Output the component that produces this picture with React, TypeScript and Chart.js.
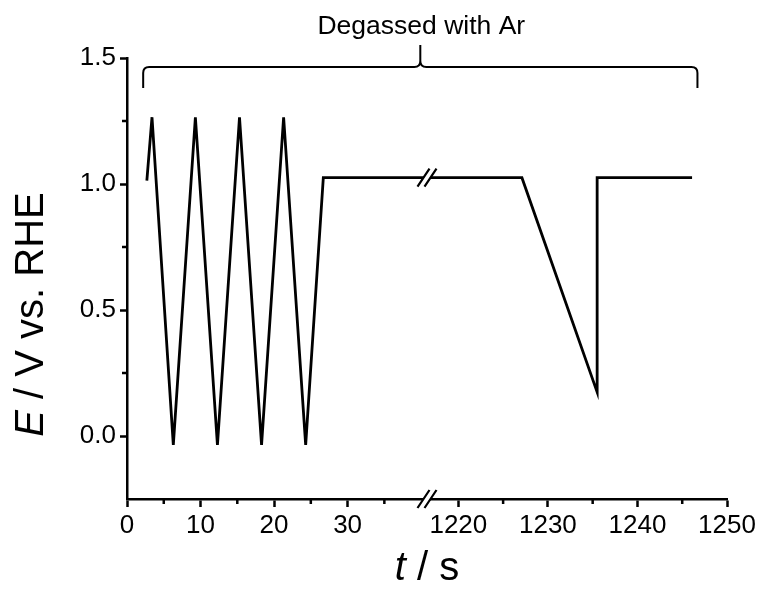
import { useEffect, useRef } from 'react';
import { Chart, registerables } from 'chart.js';

Chart.register(...registerables);

// ---- data ----
const cycleTimes = [2.7, 3.4, 6.3, 9.3, 12.3, 15.3, 18.3, 21.3, 24.3, 26.7, 40.8];
const cyclePotentials = [1.013, 1.265, -0.035, 1.265, -0.035, 1.265, -0.035, 1.265, -0.035, 1.025, 1.025];
const stepTimes = [1216.5, 1227.1, 1235.5, 1235.5, 1246.1];
const stepPotentials = [1.025, 1.025, 0.174, 1.025, 1.025];

const leftTicks = [0, 10, 20, 30];
const leftMinorTicks = [5, 15, 25, 35];
const rightTicks = [1220, 1230, 1240, 1250];
const rightMinorTicks = [1225, 1235, 1245];
const yTicks = [0, 0.5, 1.0, 1.5];
const yMinorTicks = [0.25, 0.75, 1.25];
const leftRange = [0, 40.8];
const rightRange = [1216.5, 1250];
const yRange = [-0.25, 1.5];
const bracketSpan = [2.2, 1246.7];
const annotationText = 'Degassed with Ar';

const FONT = '"Liberation Sans", Arial, Helvetica, sans-serif';

export default function App() {
  const ref = useRef<HTMLCanvasElement>(null);

  useEffect(() => {
    const canvas = ref.current!;

    const overlay = {
      id: 'overlay',
      afterDraw(chart: any) {
        const ctx: CanvasRenderingContext2D = chart.ctx;
        const x1 = chart.scales.x1;
        const x2 = chart.scales.x2;
        const y = chart.scales.y;
        ctx.save();
        ctx.strokeStyle = '#000';
        ctx.fillStyle = '#000';
        ctx.lineCap = 'butt';

        // minor ticks
        ctx.lineWidth = 2.5;
        ctx.beginPath();
        leftMinorTicks.forEach((v) => {
          const px = x1.getPixelForValue(v);
          ctx.moveTo(px, x1.top);
          ctx.lineTo(px, x1.top + 5);
        });
        rightMinorTicks.forEach((v) => {
          const px = x2.getPixelForValue(v);
          ctx.moveTo(px, x2.top);
          ctx.lineTo(px, x2.top + 5);
        });
        yMinorTicks.forEach((v) => {
          const py = y.getPixelForValue(v);
          ctx.moveTo(y.right, py);
          ctx.lineTo(y.right - 5, py);
        });
        ctx.stroke();

        // break marks
        const bx = x1.right;
        const drawBreak = (cy: number) => {
          const d = 3.5, hx = 6, hy = 9;
          ctx.fillStyle = '#fff';
          ctx.beginPath();
          ctx.moveTo(bx - d - hx, cy + hy);
          ctx.lineTo(bx - d + hx, cy - hy);
          ctx.lineTo(bx + d + hx, cy - hy);
          ctx.lineTo(bx + d - hx, cy + hy);
          ctx.closePath();
          ctx.fill();
          ctx.lineWidth = 2.2;
          ctx.beginPath();
          [-d, d].forEach((dx) => {
            ctx.moveTo(bx + dx - hx, cy + hy);
            ctx.lineTo(bx + dx + hx, cy - hy);
          });
          ctx.stroke();
        };
        drawBreak(y.getPixelForValue(stepPotentials[0]));
        drawBreak(x1.top);

        // bracket
        const L = x1.getPixelForValue(bracketSpan[0]);
        const R = x2.getPixelForValue(bracketSpan[1]);
        const C = (L + R) / 2;
        const by = 67, endY = 88, peakY = 45, r = 6;
        ctx.lineWidth = 2;
        ctx.beginPath();
        ctx.moveTo(L, endY);
        ctx.lineTo(L, by + r);
        ctx.quadraticCurveTo(L, by, L + r, by);
        ctx.lineTo(C - r, by);
        ctx.quadraticCurveTo(C, by, C, by - r);
        ctx.lineTo(C, peakY);
        ctx.moveTo(C, by - r);
        ctx.quadraticCurveTo(C, by, C + r, by);
        ctx.lineTo(R - r, by);
        ctx.quadraticCurveTo(R, by, R, by + r);
        ctx.lineTo(R, endY);
        ctx.stroke();

        ctx.fillStyle = '#000';
        ctx.font = `26.5px ${FONT}`;
        ctx.textAlign = 'center';
        ctx.textBaseline = 'alphabetic';
        ctx.fillText(annotationText, C + 1, 34);

        // axis titles with italic symbols
        const drawMixed = (parts: [string, boolean][], size: number) => {
          let total = 0;
          const widths = parts.map(([t, it]) => {
            ctx.font = `${it ? 'italic ' : ''}${size}px ${FONT}`;
            const w = ctx.measureText(t).width;
            total += w;
            return w;
          });
          let x = -total / 2;
          ctx.textAlign = 'left';
          parts.forEach(([t, it], i) => {
            ctx.font = `${it ? 'italic ' : ''}${size}px ${FONT}`;
            ctx.fillText(t, x, 0);
            x += widths[i];
          });
        };

        ctx.save();
        ctx.translate(43, (y.top + y.bottom) / 2 + 36);
        ctx.rotate(-Math.PI / 2);
        drawMixed([['E', true], [' / V vs. RHE', false]], 40);
        ctx.restore();

        ctx.save();
        ctx.translate(427, 580);
        drawMixed([['t', true], [' / s', false]], 40);
        ctx.restore();

        ctx.restore();
      },
    };

    const commonGrid = {
      display: true,
      drawOnChartArea: false,
      drawTicks: true,
      tickLength: 8,
      tickWidth: 2.5,
      tickColor: '#000',
      color: '#000',
    };
    const border = { display: true, color: '#000', width: 2.5 };
    const tickFont = { family: FONT, size: 26 };

    const chart = new Chart(canvas, {
      type: 'line',
      data: {
        datasets: [
          {
            data: cycleTimes.map((t, i) => ({ x: t, y: cyclePotentials[i] })),
            xAxisID: 'x1',
            yAxisID: 'y',
            borderColor: '#000',
            borderWidth: 2.8,
            pointRadius: 0,
            tension: 0,
            fill: false,
          },
          {
            data: stepTimes.map((t, i) => ({ x: t, y: stepPotentials[i] })),
            xAxisID: 'x2',
            yAxisID: 'y',
            borderColor: '#000',
            borderWidth: 2.8,
            pointRadius: 0,
            tension: 0,
            fill: false,
          },
        ],
      },
      options: {
        animation: false,
        responsive: true,
        maintainAspectRatio: false,
        layout: { padding: { top: 58, right: 36, left: 0, bottom: 0 } },
        plugins: { legend: { display: false }, tooltip: { enabled: false } },
        scales: {
          x1: {
            type: 'linear',
            position: 'bottom',
            stack: 'x',
            stackWeight: 1,
            min: leftRange[0],
            max: leftRange[1],
            grid: commonGrid,
            border,
            afterBuildTicks: (s: any) => {
              s.ticks = leftTicks.map((v) => ({ value: v }));
            },
            afterFit: (s: any) => {
              s.height = 97;
            },
            ticks: {
              autoSkip: false,
              maxRotation: 0,
              padding: 3,
              color: '#000',
              font: tickFont,
              callback: (v: any) => String(v),
            },
          },
          x2: {
            type: 'linear',
            position: 'bottom',
            stack: 'x',
            stackWeight: 1,
            min: rightRange[0],
            max: rightRange[1],
            grid: commonGrid,
            border,
            afterBuildTicks: (s: any) => {
              s.ticks = rightTicks.map((v) => ({ value: v }));
            },
            afterFit: (s: any) => {
              s.height = 97;
            },
            ticks: {
              autoSkip: false,
              maxRotation: 0,
              padding: 3,
              color: '#000',
              font: tickFont,
              callback: (v: any) => String(v),
            },
          },
          y: {
            type: 'linear',
            position: 'left',
            min: yRange[0],
            max: yRange[1],
            grid: { ...commonGrid, tickLength: 7 },
            border,
            afterBuildTicks: (s: any) => {
              s.ticks = yTicks.map((v) => ({ value: v }));
            },
            afterFit: (s: any) => {
              s.width = 127;
            },
            ticks: {
              autoSkip: false,
              padding: 4,
              color: '#000',
              font: tickFont,
              callback: (v: any) => Number(v).toFixed(1),
            },
          },
        },
      },
      plugins: [overlay],
    } as any);

    return () => chart.destroy();
  }, []);

  return (
    <div style={{ position: 'fixed', left: 0, top: 0, width: 763, height: 596, background: '#fff' }}>
      <canvas ref={ref} />
    </div>
  );
}
